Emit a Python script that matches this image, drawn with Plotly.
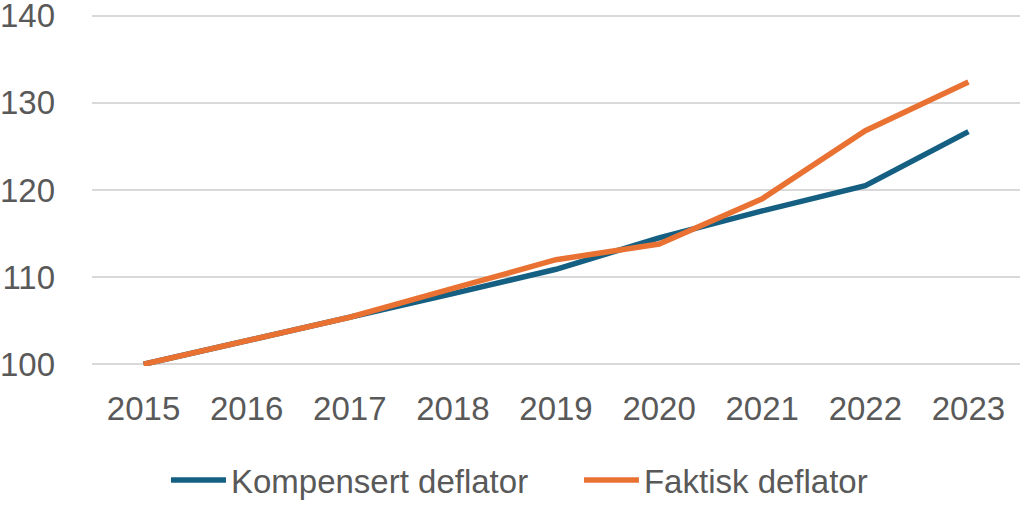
import plotly.graph_objects as go

years = ["2015", "2016", "2017", "2018", "2019", "2020", "2021", "2022", "2023"]
kompensert = [100, 102.7, 105.3, 108.1, 110.9, 114.5, 117.6, 120.5, 126.7]
faktisk = [100, 102.7, 105.4, 108.7, 112.0, 113.8, 119.0, 126.8, 132.4]
y_ticks = [100, 110, 120, 130, 140]

FONT = "Liberation Sans, Arial, sans-serif"
TXT = "#595959"

fig = go.Figure()
fig.add_trace(go.Scatter(x=years, y=kompensert, mode="lines", name="Kompensert deflator",
                         line=dict(color="#156082", width=5.5)))
fig.add_trace(go.Scatter(x=years, y=faktisk, mode="lines", name="Faktisk deflator",
                         line=dict(color="#E97132", width=5.5)))

fig.update_layout(
    width=1025, height=505,
    margin=dict(l=92, r=5, t=14, b=139, autoexpand=False),
    paper_bgcolor="white", plot_bgcolor="white",
    font=dict(family=FONT, size=33, color=TXT),
    showlegend=True,
    legend=dict(orientation="h", x=0.0797, xanchor="left", y=-0.324, yanchor="middle",
                font=dict(family=FONT, size=33, color=TXT), itemwidth=55,
                entrywidth=343, entrywidthmode="pixels",
                bgcolor="rgba(0,0,0,0)"),
)
fig.update_xaxes(type="category", range=[-0.5, 8.5], showgrid=False, zeroline=False,
                 showline=False, ticks="", ticklabelstandoff=20, automargin=False,
                 tickfont=dict(family=FONT, size=33, color=TXT))
fig.update_yaxes(range=[99.8, 140.2], tickvals=y_ticks, showgrid=True, gridcolor="#D9D9D9",
                 gridwidth=2, zeroline=False, showline=False, ticks="", automargin=False,
                 ticklabeloverflow="allow",
                 ticklabelstandoff=36, tickfont=dict(family=FONT, size=33, color=TXT))

fig.write_html("out.html", config={"displayModeBar": False},
               post_script="document.body.style.margin='0';")
